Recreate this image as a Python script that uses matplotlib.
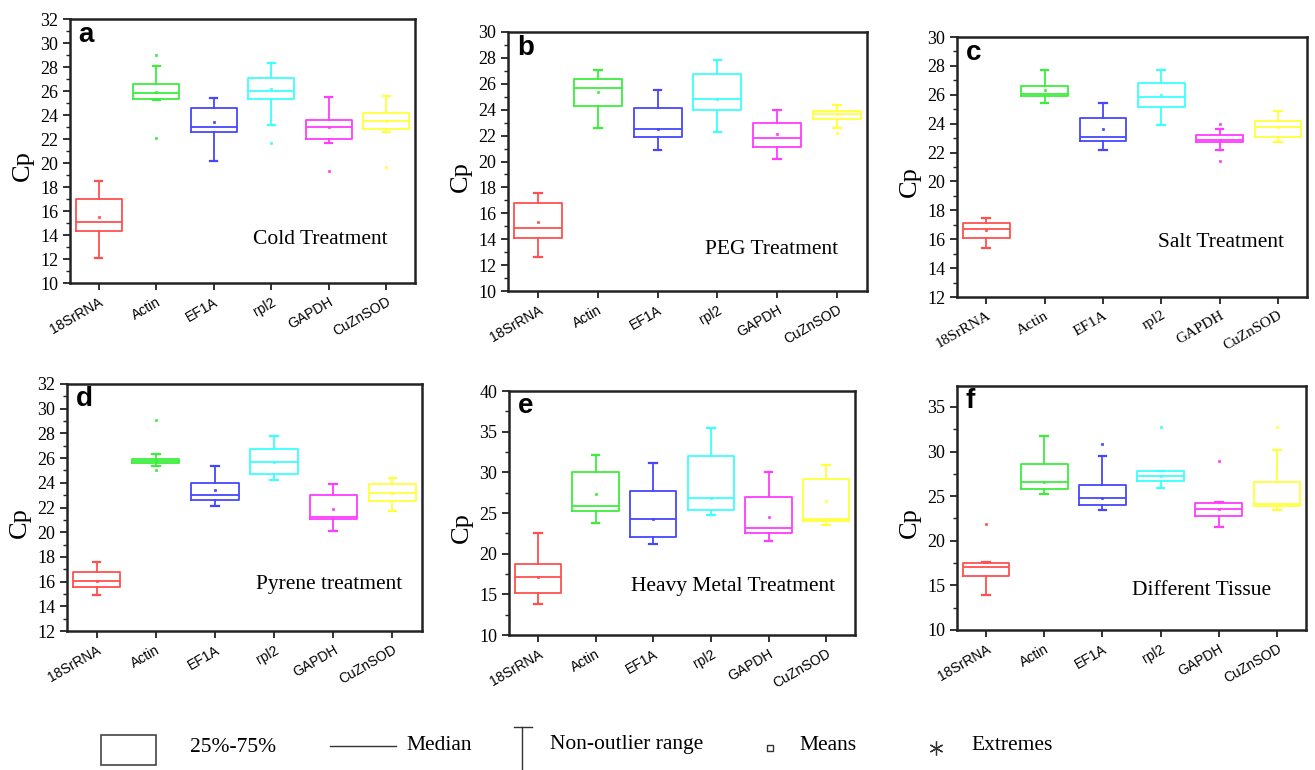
import matplotlib
matplotlib.use("Agg")
import matplotlib.pyplot as plt
from matplotlib.lines import Line2D
from matplotlib.patches import Rectangle
from matplotlib.ticker import MultipleLocator

genes = ['18SrRNA', 'Actin', 'EF1A', 'rpl2', 'GAPDH', 'CuZnSOD']
colors = ['#ff4f4f', '#3cee3c', '#4646ff', '#3cffff', '#ff3cff', '#ffff3c']

# Panel a: Cold Treatment
a_lo = [12.1, 25.25, 20.2, 23.2, 21.7, 22.6]
a_q1 = [14.3, 25.35, 22.6, 25.3, 22.0, 22.8]
a_med = [15.1, 25.8, 23.0, 26.0, 23.0, 23.5]
a_q3 = [17.0, 26.6, 24.6, 27.1, 23.6, 24.2]
a_hi = [18.5, 28.1, 25.4, 28.3, 25.5, 25.6]
a_mean = [15.5, 25.95, 23.4, 26.2, 23.0, 23.5]
a_ext = [[], [29.0, 22.1], [], [21.7], [19.3], [19.7]]

# Panel b: PEG Treatment
b_lo = [12.6, 22.6, 20.9, 22.3, 20.2, 22.6]
b_q1 = [14.1, 24.3, 21.9, 24.0, 21.15, 23.3]
b_med = [14.9, 25.7, 22.5, 24.8, 21.8, 23.7]
b_q3 = [16.8, 26.4, 24.1, 26.75, 23.0, 23.9]
b_hi = [17.6, 27.1, 25.5, 27.85, 24.0, 24.4]
b_mean = [15.35, 25.4, 22.5, 24.8, 22.1, 23.7]
b_ext = [[], [], [], [], [], [22.2]]

# Panel c: Salt Treatment
c_lo = [15.4, 25.45, 22.2, 23.9, 22.2, 22.7]
c_q1 = [16.05, 25.9, 22.8, 25.15, 22.7, 23.1]
c_med = [16.7, 26.05, 23.1, 25.85, 22.9, 23.8]
c_q3 = [17.15, 26.6, 24.4, 26.8, 23.2, 24.2]
c_hi = [17.5, 27.75, 25.4, 27.75, 23.6, 24.9]
c_mean = [16.65, 26.3, 23.6, 26.0, 22.9, 23.75]
c_ext = [[], [], [], [], [24.0, 21.4], []]

# Panel d: Pyrene treatment
d_lo = [14.95, 25.4, 22.15, 24.2, 20.1, 21.7]
d_q1 = [15.6, 25.6, 22.6, 24.7, 21.1, 22.5]
d_med = [16.05, 25.75, 23.0, 25.7, 21.25, 23.15]
d_q3 = [16.75, 25.9, 24.0, 26.75, 23.0, 23.9]
d_hi = [17.55, 26.3, 25.4, 27.8, 23.9, 24.35]
d_mean = [16.05, 25.75, 23.4, 25.7, 21.85, 23.2]
d_ext = [[], [29.1, 25.05], [], [], [], []]

# Panel e: Heavy Metal Treatment
e_lo = [13.8, 23.8, 21.2, 24.7, 21.5, 23.5]
e_q1 = [15.15, 25.3, 22.0, 25.4, 22.6, 24.0]
e_med = [17.15, 25.9, 24.25, 26.8, 23.1, 24.3]
e_q3 = [18.75, 30.0, 27.7, 31.95, 27.0, 29.2]
e_hi = [22.5, 32.1, 31.1, 35.4, 30.0, 30.9]
e_mean = [17.15, 27.3, 24.25, 26.8, 24.5, 26.5]
e_ext = [[], [], [], [], [], []]

# Panel f: Different Tissue
f_lo = [13.95, 25.25, 23.5, 25.95, 21.5, 23.4]
f_q1 = [16.0, 25.75, 24.0, 26.7, 22.75, 23.85]
f_med = [17.1, 26.6, 24.8, 27.25, 23.6, 24.1]
f_q3 = [17.5, 28.65, 26.25, 27.8, 24.25, 26.6]
f_hi = [17.6, 31.75, 29.55, 27.8, 24.3, 30.15]
f_mean = [17.6, 26.6, 24.8, 27.25, 23.6, 24.1]
f_ext = [[21.9], [], [30.9], [32.8], [28.9], [32.75]]

panels = [
    ('a', 'Cold Treatment', a_lo, a_q1, a_med, a_q3, a_hi, a_mean, a_ext),
    ('b', 'PEG Treatment', b_lo, b_q1, b_med, b_q3, b_hi, b_mean, b_ext),
    ('c', 'Salt Treatment', c_lo, c_q1, c_med, c_q3, c_hi, c_mean, c_ext),
    ('d', 'Pyrene treatment', d_lo, d_q1, d_med, d_q3, d_hi, d_mean, d_ext),
    ('e', 'Heavy Metal Treatment', e_lo, e_q1, e_med, e_q3, e_hi, e_mean, e_ext),
    ('f', 'Different Tissue', f_lo, f_q1, f_med, f_q3, f_hi, f_mean, f_ext),
]

# layout (pixel boxes: left, top, right, bottom), y-limits, tick steps, text positions
boxes = [(70, 19, 415, 283), (508, 32, 867, 291), (957, 37, 1307, 297),
         (67, 384, 422, 631), (509, 391, 855, 635), (957, 386, 1306, 630)]
ylims = [(10, 32), (10, 30), (12, 30), (12, 32), (10, 40), (10, 37.35)]
ysteps = [2, 2, 2, 2, 5, 5]
txtpos = [(0.725, 0.163), (0.735, 0.162), (0.754, 0.208),
          (0.738, 0.19), (0.647, 0.2), (0.70, 0.16)]

W, H = 1315, 770
fig = plt.figure(figsize=(W / 100, H / 100), dpi=100)
fig.patch.set_facecolor('white')

serif = 'Liberation Serif'
sans = 'Liberation Sans'

for i, (letter, title, lo, q1, med, q3, hi, mean, ext) in enumerate(panels):
    l, t, r, b = boxes[i]
    ax = fig.add_axes([l / W, 1 - b / H, (r - l) / W, (b - t) / H])
    stats = []
    for j, g in enumerate(genes):
        stats.append(dict(label=g, whislo=lo[j], q1=q1[j], med=med[j], q3=q3[j],
                          whishi=hi[j], mean=mean[j], fliers=ext[j]))
    bp = ax.bxp(stats, positions=range(1, 7), widths=0.8, capwidths=0.13,
                showmeans=True, showfliers=True, patch_artist=False)
    for j in range(6):
        c = colors[j]
        bp['boxes'][j].set(color=c, linewidth=1.3)
        bp['medians'][j].set(color=c, linewidth=1.3)
        for k in (2 * j, 2 * j + 1):
            bp['whiskers'][k].set(color=c, linewidth=1.3)
            bp['caps'][k].set(color=c, linewidth=1.6)
        bp['means'][j].set(marker='s', markersize=1.8, markerfacecolor=c,
                           markeredgecolor=c, markeredgewidth=0.5)
        bp['fliers'][j].set(marker='s', markersize=1.8, markerfacecolor=c,
                            markeredgecolor=c, markeredgewidth=0.5)
    ax.set_xlim(0.5, 6.5)
    ax.set_ylim(*ylims[i])
    ax.yaxis.set_major_locator(MultipleLocator(ysteps[i]))
    ax.yaxis.set_minor_locator(MultipleLocator(ysteps[i] / 2))
    ax.tick_params(axis='both', which='major', direction='out', length=5,
                   width=1.3, color='#222222')
    ax.tick_params(axis='y', which='minor', direction='out', length=3,
                   width=1.0, color='#222222')
    ax.tick_params(top=False, right=False)
    for sp in ax.spines.values():
        sp.set_linewidth(1.8)
        sp.set_color('#222222')
    for lab in ax.get_yticklabels():
        lab.set_fontfamily(serif)
        lab.set_fontsize(13)
    ax.set_xticks(range(1, 7))
    xfam = serif if letter == 'c' else sans
    xsize = 11 if letter == 'c' else 10
    ax.set_xticklabels(genes, rotation=30, ha='right', va='top',
                       rotation_mode='anchor', fontfamily=xfam, fontsize=xsize)
    ax.set_ylabel('Cp', fontfamily=serif, fontsize=19)
    wpx = r - l
    hpx = b - t
    ax.yaxis.set_label_coords(-36 / wpx, 0.5 - 15 / hpx)
    ax.text(0.025, 0.94, letter, transform=ax.transAxes, fontfamily=sans,
            fontweight='bold', fontsize=20, ha='left', va='center')
    ax.text(txtpos[i][0], txtpos[i][1], title, transform=ax.transAxes,
            fontfamily=serif, fontsize=15.5, ha='center', va='center')


def fx(x):
    return x / W


def fy(y):
    return 1 - y / H


# bottom key
fig.add_artist(Rectangle((fx(101), fy(765)), fx(156) - fx(101), fy(735) - fy(765),
                         transform=fig.transFigure, fill=False,
                         edgecolor='#444444', linewidth=1.2))
fig.text(fx(190), fy(747), '25%-75%', fontfamily=serif, fontsize=15.5,
         ha='left', va='center')
fig.add_artist(Line2D([fx(330), fx(396)], [fy(746), fy(746)],
                      transform=fig.transFigure, color='#333333', linewidth=1.0))
fig.text(fx(406), fy(746), 'Median', fontfamily=serif, fontsize=15.5,
         ha='left', va='center')
fig.add_artist(Line2D([fx(522), fx(522)], [fy(727), fy(770)],
                      transform=fig.transFigure, color='#333333', linewidth=1.0))
fig.add_artist(Line2D([fx(514), fx(532)], [fy(727), fy(727)],
                      transform=fig.transFigure, color='#333333', linewidth=1.0))
fig.text(fx(550), fy(745), 'Non-outlier range', fontfamily=serif, fontsize=15.5,
         ha='left', va='center')
fig.add_artist(Line2D([fx(770)], [fy(748)], transform=fig.transFigure,
                      marker='s', markersize=5, markerfacecolor='white',
                      markeredgecolor='#333333', markeredgewidth=1.0, linestyle='none'))
fig.text(fx(799), fy(746), 'Means', fontfamily=serif, fontsize=15.5,
         ha='left', va='center')
fig.add_artist(Line2D([fx(936)], [fy(748)], transform=fig.transFigure,
                      marker=(6, 2, 0), markersize=10, markeredgecolor='#333333',
                      markeredgewidth=0.9, linestyle='none'))
fig.text(fx(971), fy(746), 'Extremes', fontfamily=serif, fontsize=15.5,
         ha='left', va='center')

fig.savefig('out.png', dpi=100, facecolor='white')
